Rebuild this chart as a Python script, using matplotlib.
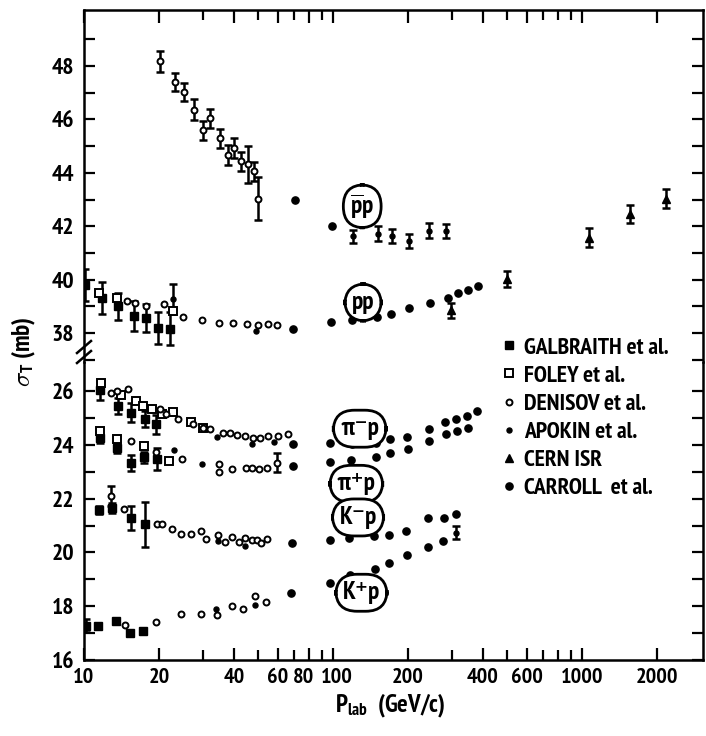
import numpy as np
import matplotlib
matplotlib.use('Agg')
import matplotlib.pyplot as plt
from matplotlib import font_manager
from matplotlib.lines import Line2D
from matplotlib.ticker import NullFormatter
from matplotlib.transforms import ScaledTranslation

# pick a narrow sans face if one is installed
fam, stretch = 'DejaVu Sans', 'normal'
for f in font_manager.fontManager.ttflist:
	if 'Narrow' in f.name and 'Sans' in f.name:
		fam, stretch = f.name, 'normal'
		break
else:
	for want in ['DejaVu Sans', 'Noto Sans', 'Roboto', 'Open Sans', 'Liberation Sans']:
		hit = [f for f in font_manager.fontManager.ttflist
		       if f.name == want and 'condensed' in str(f.stretch)]
		if hit:
			fam, stretch = want, 'condensed'
			break
plt.rcParams['font.family'] = [fam, 'DejaVu Sans']
plt.rcParams['font.stretch'] = stretch
plt.rcParams['font.weight'] = 'semibold'
plt.rcParams['mathtext.fontset'] = 'custom'
plt.rcParams['mathtext.rm'] = fam + ':semibold'
plt.rcParams['mathtext.it'] = fam + ':semibold'
narrow = stretch != 'normal' or 'Narrow' in fam
ytick_fs = 17 if narrow else 13
xtick_fs = 16 if narrow else 12
lab_fs = 18 if narrow else 15
key_fs = 17 if narrow else 13

# ---------------- data (P_lab in GeV/c, sigma_T in mb) ----------------
# GALBRAITH et al.
galb_pp_P = [10.1, 11.8, 13.7, 15.9, 17.7, 19.9, 22.1]
galb_pp_s = [39.80, 39.31, 39.00, 38.64, 38.58, 38.21, 38.16]
galb_pp_e = [0.6, 0.6, 0.5, 0.56, 0.53, 0.6, 0.62]
galb_pim_P = [11.6, 13.7, 15.5, 17.5, 19.5]
galb_pim_s = [26.05, 25.43, 25.20, 24.95, 24.77]
galb_pim_e = [0.37, 0.3, 0.35, 0.3, 0.35]
galb_pip_P = [11.6, 13.6, 15.4, 17.4, 19.6]
galb_pip_s = [24.25, 23.88, 23.33, 23.53, 23.47]
galb_pip_e = [0.2, 0.2, 0.3, 0.2, 0.4]
galb_km_P = [11.5, 13.0, 15.4, 17.5]
galb_km_s = [21.58, 21.65, 21.29, 21.05]
galb_km_e = [0.15, 0.2, 0.45, 0.84]
galb_kp_P = [10.2, 11.4, 13.4, 15.3, 17.3]
galb_kp_s = [17.28, 17.27, 17.46, 17.01, 17.08]
galb_kp_e = [0.25, 0, 0, 0, 0]

# FOLEY et al.
foley_pp_P = [11.5, 13.6, 22.7]
foley_pp_s = [39.50, 39.32, 38.84]
foley_pim_P = [11.7, 14.1, 16.2, 17.3, 18.8, 20.6, 22.7, 27.0, 30.0]
foley_pim_s = [26.30, 25.87, 25.63, 25.45, 25.33, 25.15, 25.22, 24.85, 24.62]
foley_pip_P = [11.6, 13.6, 17.4, 21.9]
foley_pip_s = [24.50, 24.20, 23.96, 23.41]

# DENISOV et al.
den_pbp_P = [20.2, 23.1, 25.3, 27.7, 30.1, 32.1, 35.3, 37.9, 40.2, 42.9, 45.4, 48.0, 50.0]
den_pbp_s = [48.18, 47.40, 47.03, 46.37, 45.60, 46.04, 45.29, 44.67, 44.92, 44.43, 44.33, 44.06, 43.04]
den_pbp_e = [0.4, 0.34, 0.34, 0.38, 0.36, 0.36, 0.36, 0.36, 0.38, 0.34, 0.69, 0.36, 0.8]
den_pp_P = [14.9, 16.0, 17.8, 21.0, 25.0, 29.9, 34.8, 39.7, 45.0, 49.8, 54.6, 59.3]
den_pp_s = [39.19, 39.14, 39.02, 39.09, 38.60, 38.48, 38.37, 38.37, 38.34, 38.32, 38.33, 38.30]
den_pim_P = [12.8, 13.6, 15.0, 20.1, 21.4, 23.9, 27.4, 30.1, 32.0, 36.3, 38.5, 41.0,
             44.3, 47.9, 50.9, 55.0, 60.3, 66.1]
den_pim_s = [25.93, 25.99, 26.06, 25.33, 25.15, 24.97, 24.79, 24.61, 24.59, 24.44, 24.44, 24.38,
             24.32, 24.26, 24.27, 24.33, 24.34, 24.40]
den_pip_P = [15.4, 19.4, 24.8, 34.8, 34.8, 39.4, 44.6, 47.4, 50.4, 54.4, 59.7]
den_pip_s = [24.14, 23.72, 23.46, 23.27, 22.98, 23.10, 23.14, 23.14, 23.11, 23.15, 23.34]
den_pip_e = [0, 0, 0, 0, 0, 0, 0, 0, 0, 0, 0.35]
den_km_P = [12.8, 14.5, 19.6, 20.6, 22.6, 24.6, 27.0, 29.5, 31.0, 34.6, 36.8, 39.4,
            41.9, 44.3, 47.1, 49.3, 51.6, 54.1]
den_km_s = [22.11, 21.60, 21.06, 21.06, 20.88, 20.70, 20.70, 20.80, 20.49, 20.65, 20.37, 20.56,
            20.38, 20.54, 20.46, 20.46, 20.36, 20.51]
den_km_e = [0.37] + [0] * 17
den_kp_P = [14.6, 19.5, 24.6, 29.5, 34.2, 39.3, 43.7, 48.6, 53.8]
den_kp_s = [17.30, 17.40, 17.70, 17.70, 17.67, 17.99, 17.91, 18.38, 18.17]

# APOKIN et al.
apo_pp_P = [22.7, 49.1]
apo_pp_s = [39.27, 38.07]
apo_pp_e = [0.56, 0]
apo_pim_P = [34.1, 47.2, 57.7]
apo_pim_s = [24.31, 24.04, 24.09]
apo_pip_P = [22.9, 29.8]
apo_pip_s = [23.79, 23.30]
apo_km_P = [34.6, 44.3]
apo_km_s = [20.41, 20.24]
apo_kp_P = [33.9, 48.6]
apo_kp_s = [17.88, 18.03]

# CERN ISR
isr_pbp_P = [1071, 1560, 2183]
isr_pbp_s = [41.58, 42.46, 43.04]
isr_pbp_e = [0.37, 0.34, 0.34]
isr_pp_P = [297, 500]
isr_pp_s = [38.85, 40.01]
isr_pp_e = [0.28, 0.3]

# CARROLL et al.
car_pbp_P = [70.2, 98.9]
car_pbp_s = [42.98, 42.02]
car_pp_P = [69.3, 98.2, 119.6, 150, 171, 201, 246, 289, 318, 348, 382]
car_pp_s = [38.15, 38.42, 38.50, 38.61, 38.70, 38.94, 39.13, 39.33, 39.49, 39.61, 39.78]
car_pim_P = [69.0, 97.3, 119, 149, 169.4, 199, 243, 281, 313, 346, 377]
car_pim_s = [24.03, 24.05, 24.02, 24.07, 24.20, 24.30, 24.60, 24.85, 24.96, 25.07, 25.26]
car_pip_P = [69.2, 97.5, 118, 149, 170, 200, 244, 283, 315, 348]
car_pip_s = [23.23, 23.37, 23.44, 23.54, 23.71, 23.86, 24.16, 24.42, 24.51, 24.64]
car_km_P = [68.2, 97.2, 116, 146, 168, 197, 240, 279, 313]
car_km_s = [20.35, 20.48, 20.55, 20.60, 20.65, 20.78, 21.27, 21.28, 21.41]
car_kp_P = [68.0, 97.2, 117.5, 148, 168, 198, 240, 277]
car_kp_s = [18.49, 18.88, 19.17, 19.39, 19.62, 19.90, 20.22, 20.42]

# points with error bars, no label in the key
oth_pbp_P = [120, 151.6, 172.6, 201.4, 243.8, 285.3]
oth_pbp_s = [41.62, 41.73, 41.64, 41.46, 41.84, 41.81]
oth_pbp_e = [0.26, 0.28, 0.26, 0.26, 0.28, 0.26]
oth_kp_P = [313]
oth_kp_s = [20.74]
oth_kp_e = [0.25]

xmajor = [10, 20, 40, 60, 80, 100, 200, 400, 600, 1000, 2000]
xminor = [30, 50, 70, 90, 300, 500, 700, 800, 900]

# ---------------- styles ----------------
galb = dict(marker='s', ms=5.5, mfc='k', mec='k')
foley = dict(marker='s', ms=6, mfc='white', mec='k', mew=1.4)
denis = dict(marker='o', ms=4.3, mfc='white', mec='k', mew=1.4)
apok = dict(marker='o', ms=3.6, mfc='k', mec='k')
isr = dict(marker='^', ms=5.5, mfc='k', mec='k')
carr = dict(marker='o', ms=5.2, mfc='k', mec='k')


def draw(ax, P, s, style, err=None):
	P = np.asarray(P, float)
	s = np.asarray(s, float)
	if err is not None:
		e = np.asarray(err, float)
		m = e > 0
		ax.errorbar(P[m], s[m], yerr=e[m], fmt='none', ecolor='k',
		            elinewidth=1.8, capsize=3, capthick=1.8, zorder=2)
	ax.plot(P, s, ls='none', zorder=3, **style)


fig = plt.figure(figsize=(7.06, 7.36), dpi=100)
ax_lo = fig.add_axes([84/706, 76/736, 619/706, 298/736])
ax_hi = fig.add_axes([84/706, 374/736, 619/706, 352/736], sharex=ax_lo)

# upper panel: pbar-p and pp
draw(ax_hi, den_pbp_P, den_pbp_s, denis, den_pbp_e)
draw(ax_hi, car_pbp_P, car_pbp_s, carr)
draw(ax_hi, oth_pbp_P, oth_pbp_s, apok, oth_pbp_e)
draw(ax_hi, isr_pbp_P, isr_pbp_s, isr, isr_pbp_e)
draw(ax_hi, galb_pp_P, galb_pp_s, galb, galb_pp_e)
draw(ax_hi, foley_pp_P, foley_pp_s, foley)
draw(ax_hi, den_pp_P, den_pp_s, denis)
draw(ax_hi, apo_pp_P, apo_pp_s, apok, apo_pp_e)
draw(ax_hi, car_pp_P, car_pp_s, carr)
draw(ax_hi, isr_pp_P, isr_pp_s, isr, isr_pp_e)

# lower panel: pi-p, pi+p, K-p, K+p
draw(ax_lo, galb_pim_P, galb_pim_s, galb, galb_pim_e)
draw(ax_lo, galb_pip_P, galb_pip_s, galb, galb_pip_e)
draw(ax_lo, galb_km_P, galb_km_s, galb, galb_km_e)
draw(ax_lo, galb_kp_P, galb_kp_s, galb, galb_kp_e)
draw(ax_lo, foley_pim_P, foley_pim_s, foley)
draw(ax_lo, foley_pip_P, foley_pip_s, foley)
draw(ax_lo, den_pim_P, den_pim_s, denis)
draw(ax_lo, den_pip_P, den_pip_s, denis, den_pip_e)
draw(ax_lo, den_km_P, den_km_s, denis, den_km_e)
draw(ax_lo, den_kp_P, den_kp_s, denis)
draw(ax_lo, apo_pim_P, apo_pim_s, apok)
draw(ax_lo, apo_pip_P, apo_pip_s, apok)
draw(ax_lo, apo_km_P, apo_km_s, apok)
draw(ax_lo, apo_kp_P, apo_kp_s, apok)
draw(ax_lo, car_pim_P, car_pim_s, carr)
draw(ax_lo, car_pip_P, car_pip_s, carr)
draw(ax_lo, car_km_P, car_km_s, carr)
draw(ax_lo, car_kp_P, car_kp_s, carr)
draw(ax_lo, oth_kp_P, oth_kp_s, apok, oth_kp_e)

# axes
ax_lo.set_xscale('log')
ax_lo.set_xlim(10, 3060)
ax_lo.set_ylim(16, 27.08)
ax_hi.set_ylim(36.92, 50.1)

ax_lo.set_xticks(xmajor, labels=[str(v) for v in xmajor])
ax_lo.set_xticks(xminor, minor=True)
ax_lo.xaxis.set_minor_formatter(NullFormatter())

ax_lo.set_yticks(np.arange(16, 27, 2))
ax_lo.set_yticks(np.arange(17, 27, 2), minor=True)
ax_hi.set_yticks(np.arange(38, 49, 2))
ax_hi.set_yticks(np.arange(37, 50, 2), minor=True)

for ax in (ax_lo, ax_hi):
	for sp in ax.spines.values():
		sp.set_linewidth(1.8)
	ax.tick_params(axis='y', which='both', direction='in', left=True, right=True,
	               length=8, width=1.6, labelsize=ytick_fs, pad=7)
	for t in ax.get_yticklabels():
		t.set_fontweight('bold')

ax_hi.spines['bottom'].set_visible(False)
ax_lo.spines['top'].set_visible(False)
ax_hi.tick_params(axis='x', which='both', direction='in', top=True, bottom=False,
                  labelbottom=False, labeltop=False, width=1.6)
ax_hi.tick_params(axis='x', which='major', length=9)
ax_hi.tick_params(axis='x', which='minor', length=7)
ax_lo.tick_params(axis='x', which='both', direction='in', top=False, bottom=True,
                  width=1.6, labelsize=xtick_fs, pad=6)
ax_lo.tick_params(axis='x', which='major', length=9)
ax_lo.tick_params(axis='x', which='minor', length=7)
for t in ax_lo.get_xticklabels():
	t.set_fontweight('bold')
# "80" and "100" sit very close: nudge them apart a little
for t, dx in zip(ax_lo.get_xticklabels()[4:6], (-0.05, 0.04)):
	t.set_transform(t.get_transform() + ScaledTranslation(dx, 0, fig.dpi_scale_trans))

# break marks on the left axis
for yc in (347, 357):
	x0, y0 = 84/706, 1 - yc/736
	fig.add_artist(Line2D([x0 - 7/706, x0 + 7/706], [y0 - 6/736, y0 + 6/736],
	                      transform=fig.transFigure, color='k', lw=1.8))

# reaction labels in bubbles
bub = dict(boxstyle='round,pad=0.28,rounding_size=0.85', fc='white', ec='k', lw=2.0)
ax_hi.text(131, 42.75, r'$\overline{\mathrm{p}}\mathrm{p}$', fontsize=lab_fs, ha='center', va='center', bbox=bub, zorder=5)
ax_hi.text(132, 39.15, 'pp', fontsize=lab_fs, ha='center', va='center', bbox=bub, zorder=5)
ax_lo.text(128, 24.6, 'π⁻p', fontsize=lab_fs, ha='center', va='center', bbox=bub, zorder=5)
ax_lo.text(124, 22.55, 'π⁺p', fontsize=lab_fs, ha='center', va='center', bbox=bub, zorder=5)
ax_lo.text(126, 21.3, 'K⁻p', fontsize=lab_fs, ha='center', va='center', bbox=bub, zorder=5)
ax_lo.text(130, 18.5, 'K⁺p', fontsize=lab_fs, ha='center', va='center', bbox=bub, zorder=5)

# key
handles = [Line2D([], [], ls='none', **galb), Line2D([], [], ls='none', **foley),
           Line2D([], [], ls='none', **denis), Line2D([], [], ls='none', **apok),
           Line2D([], [], ls='none', **isr), Line2D([], [], ls='none', **carr)]
labels = ['GALBRAITH et al.', 'FOLEY et al.', 'DENISOV et al.', 'APOKIN et al.',
          'CERN ISR', 'CARROLL  et al.']
fig.legend(handles, labels, loc='upper left', bbox_to_anchor=(502/706, 1 - 337/736),
           frameon=False, fontsize=key_fs, handlelength=0.6, handletextpad=0.35,
           labelspacing=0.28, borderaxespad=0, borderpad=0)

fig.text(24/706, 1 - 352/736, r'$\sigma_{\mathrm{T}}$ (mb)', rotation=90,
         fontsize=lab_fs, ha='center', va='center')
fig.text(390/706, 1 - 706/736, r'P$_{\mathrm{lab}}$  (GeV/c)', fontsize=lab_fs,
         ha='center', va='center')

fig.savefig('out.png', dpi=100)
